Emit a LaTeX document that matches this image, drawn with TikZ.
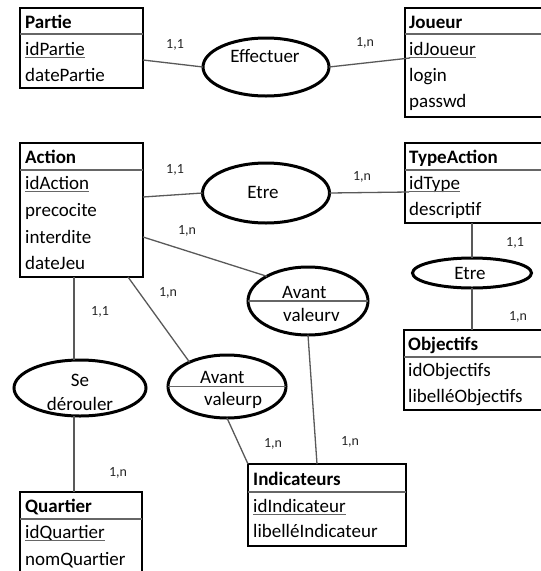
\documentclass[tikz,border=0pt]{standalone}
\usepackage{fontspec}
\setmainfont{Carlito}
\usetikzlibrary{shapes.geometric}
% underlined key attribute: name, position, text
\newcommand\keyattr[3]{%
  \node[attr] (#1) at (#2) {#3};
  \draw[keyline] ([yshift=-2.5pt]#1.base west) -- ([yshift=-2.5pt]#1.base east);}
\begin{document}
\begin{tikzpicture}[x=1pt,y=-1pt,
  entity/.style={draw=black, line width=2.4pt, rectangle, inner sep=0pt, outer sep=0pt, anchor=north west},
  assoc/.style={draw=black, line width=3pt, ellipse, inner sep=0pt, outer sep=0pt},
  divider/.style={draw=black!60, line width=1.4pt},
  link/.style={draw=black!65, line width=1.3pt},
  attr/.style={inner sep=0pt, anchor=base west, font=\fontsize{19pt}{22pt}\selectfont},
  head/.style={attr, font=\fontsize{19pt}{22pt}\selectfont\bfseries},
  atext/.style={inner sep=0pt, anchor=base, font=\fontsize{19pt}{22pt}\selectfont},
  card/.style={inner sep=0pt, font=\fontsize{14pt}{16pt}\selectfont, text=black!85},
  keyline/.style={draw=black!60, line width=1.3pt}]

\fill[white] (0,0) rectangle (541,571);
\useasboundingbox (0,0) rectangle (541,571);

% ---------- entities ----------
% Partie
\node[entity, minimum width=123pt, minimum height=80pt] (partie) at (20,8) {};
\draw[divider] ([yshift=-26pt]partie.north west) -- ([yshift=-26pt]partie.north east);
\node[head] (partieT) at (25,28) {Partie};
\keyattr{idpartie}{25,55}{idPartie}
\node[attr] (datepartie) at (25,81) {datePartie};

% Joueur
\node[entity, minimum width=141pt, minimum height=109pt] (joueur) at (405,8) {};
\draw[divider] ([yshift=-26pt]joueur.north west) -- ([yshift=-26pt]joueur.north east);
\node[head] (joueurT) at (409,28) {Joueur};
\keyattr{idjoueur}{409,55}{idJoueur}
\node[attr] (login) at (409,81) {login};
\node[attr] (passwd) at (409,107) {passwd};

% Action
\node[entity, minimum width=123pt, minimum height=134pt] (action) at (20,143) {};
\draw[divider] ([yshift=-27pt]action.north west) -- ([yshift=-27pt]action.north east);
\node[head] (actionT) at (25,163) {Action};
\keyattr{idaction}{25,189}{idAction}
\node[attr] (precocite) at (25,216) {precocite};
\node[attr] (interdite) at (25,243) {interdite};
\node[attr] (datejeu) at (25,269) {dateJeu};

% TypeAction
\node[entity, minimum width=141pt, minimum height=80pt] (typeaction) at (405,143) {};
\draw[divider] ([yshift=-27pt]typeaction.north west) -- ([yshift=-27pt]typeaction.north east);
\node[head] (typeactionT) at (409,163) {TypeAction};
\keyattr{idtype}{409,189}{idType}
\node[attr] (descriptif) at (409,215) {descriptif};

% Objectifs
\node[entity, minimum width=142pt, minimum height=80pt] (objectifs) at (404,330) {};
\draw[divider] ([yshift=-27pt]objectifs.north west) -- ([yshift=-27pt]objectifs.north east);
\node[head] (objectifsT) at (408,350) {Objectifs};
\node[attr] (idobjectifs) at (408,376) {idObjectifs};
\node[attr] (libobjectifs) at (408,402) {libelléObjectifs};

% Indicateurs
\node[entity, minimum width=158pt, minimum height=82pt] (indicateurs) at (248,464) {};
\draw[divider] ([yshift=-28pt]indicateurs.north west) -- ([yshift=-28pt]indicateurs.north east);
\node[head] (indicateursT) at (253,485) {Indicateurs};
\keyattr{idindicateur}{253,512}{idIndicateur}
\node[attr] (libindicateur) at (253,537) {libelléIndicateur};

% Quartier
\node[entity, minimum width=122pt, minimum height=92pt] (quartier) at (20,492) {};
\draw[divider] ([yshift=-27pt]quartier.north west) -- ([yshift=-27pt]quartier.north east);
\node[head] (quartierT) at (25,512) {Quartier};
\keyattr{idquartier}{25,538}{idQuartier}
\node[attr] (nomquartier) at (25,565) {nomQuartier};

% ---------- associations ----------
\node[assoc, minimum width=126pt, minimum height=58pt] (effectuer) at (266,67) {};
\node[atext] (effectuerT) at (265,62) {Effectuer};

\node[assoc, minimum width=127pt, minimum height=60pt] (etre) at (266,193) {};
\node[atext] (etreT) at (263,198) {Etre};

\node[assoc, minimum width=120pt, minimum height=68pt] (avantv) at (308,301) {};
\draw[divider] (avantv.west) -- (avantv.east);
\node[attr] (avantvA) at (282,298) {Avant};
\node[attr] (avantvB) at (283,321) {valeurv};

\node[assoc, minimum width=118pt, minimum height=63pt] (avantp) at (227,386.5) {};
\draw[divider] (avantp.west) -- (avantp.east);
\node[attr] (avantpA) at (200,383) {Avant};
\node[attr] (avantpB) at (204,405) {valeurp};

\node[assoc, minimum width=132pt, minimum height=56pt] (derouler) at (80,388) {};
\node[atext] (deroulerA) at (80,386) {Se};
\node[atext] (deroulerB) at (80,410) {dérouler};

\node[assoc, minimum width=119pt, minimum height=30pt] (etreobj) at (472,273) {};
\node[atext] (etreobjT) at (470,279) {Etre};

% ---------- connectors ----------
\draw[link] ([yshift=-12pt]partie.east) -- (effectuer.west);
\draw[link] (effectuer.east) -- ([xshift=5pt,yshift=4.5pt]joueur.west);
\draw[link] ([yshift=13pt]action.east) -- (etre.west);
\draw[link] (etre.east) -- ([xshift=4pt,yshift=-9pt]typeaction.west);
\draw[link] ([yshift=-27pt]action.east) -- (avantv.149);
\draw[link] ([xshift=108pt]action.south west) -- (avantp.147);
\draw[link] ([xshift=54pt]action.south west) -- ([xshift=-6pt]derouler.north);
\draw[link] ([xshift=-6pt]derouler.south) -- ([xshift=54pt]quartier.north west);
\draw[link] (avantp.south) -- (indicateurs.north west);
\draw[link] (avantv.south) -- ([xshift=69pt]indicateurs.north west);
\draw[link] ([xshift=67pt]typeaction.south west) -- (etreobj.north);
\draw[link] (etreobj.south) -- ([xshift=68pt]objectifs.north west);

% ---------- cardinalities ----------
\node[card] (c1) at (175,45) {1,1};
\node[card] (c2) at (365,43) {1,n};
\node[card] (c3) at (175,170) {1,1};
\node[card] (c4) at (362,177) {1,n};
\node[card] (c5) at (187,231) {1,n};
\node[card] (c6) at (515,243) {1,1};
\node[card] (c7) at (518,317) {1,n};
\node[card] (c8) at (168,293) {1,n};
\node[card] (c9) at (100,312) {1,1};
\node[card] (c10) at (118,473) {1,n};
\node[card] (c11) at (273,444) {1,n};
\node[card] (c12) at (350,442) {1,n};
\end{tikzpicture}
\end{document}
